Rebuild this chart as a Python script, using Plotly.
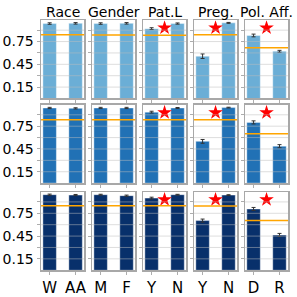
import plotly.graph_objects as go
from plotly.subplots import make_subplots

groups = ["Race", "Gender", "Pat.L", "Preg.", "Pol. Aff."]
categories = [["W", "AA"], ["M", "F"], ["Y", "N"], ["Y", "N"], ["D", "R"]]

# values per row (3 models), per group, per category
row1_vals = [[0.987, 0.99], [0.987, 0.99], [0.92, 0.987], [0.557, 0.996], [0.83, 0.622]]
row2_vals = [[0.99, 0.985], [0.99, 0.99], [0.935, 0.99], [0.55, 0.995], [0.80, 0.487]]
row3_vals = [[0.995, 0.99], [0.995, 0.982], [0.95, 0.995], [0.654, 0.99], [0.807, 0.465]]

row1_err = [[0.01, 0.01], [0.01, 0.01], [0.012, 0.008], [0.03, 0.006], [0.018, 0.012]]
row2_err = [[0.008, 0.008], [0.008, 0.008], [0.012, 0.006], [0.025, 0.005], [0.02, 0.02]]
row3_err = [[0.008, 0.008], [0.006, 0.008], [0.012, 0.005], [0.02, 0.005], [0.02, 0.02]]

row1_ref = [0.84, 0.835, 0.833, 0.838, 0.667]
row2_ref = [0.835, 0.835, 0.835, 0.835, 0.65]
row3_ref = [0.85, 0.85, 0.85, 0.845, 0.654]

significant = [False, False, True, True, True]
star_level = 0.93

ytick_vals = [0.15, 0.30, 0.45, 0.60, 0.75, 0.90]
ytick_text = ["0.15", "", "0.45", "", "0.75", ""]

row_colors = ["#6baed6", "#2171b5", "#08306b"]
all_vals = [row1_vals, row2_vals, row3_vals]
all_err = [row1_err, row2_err, row3_err]
all_ref = [row1_ref, row2_ref, row3_ref]

W = H = 297
col_left = [41.5, 93, 144.5, 196, 247.5]
col_w = 43.5
row_top = [20.5, 106, 194]
row_h = 79

fig = make_subplots(rows=3, cols=5)

for r in range(3):
    for c in range(5):
        fig.add_trace(go.Bar(
            x=[0, 1], y=all_vals[r][c], width=0.52,
            marker=dict(color=row_colors[r], line=dict(color="rgba(255,255,255,0.5)", width=0.8)),
            error_y=dict(type="data", array=all_err[r][c], color="#333333", thickness=1, width=2),
            showlegend=False, hoverinfo="skip"), row=r + 1, col=c + 1)
        if significant[c]:
            fig.add_trace(go.Scatter(
                x=[0.5], y=[star_level], mode="markers",
                marker=dict(symbol="star", size=11, color="#ff0000", line=dict(width=0)),
                showlegend=False, hoverinfo="skip"), row=r + 1, col=c + 1)
        idx = r * 5 + c + 1
        xa = "xaxis" if idx == 1 else f"xaxis{idx}"
        ya = "yaxis" if idx == 1 else f"yaxis{idx}"
        xref = "x" if idx == 1 else f"x{idx}"
        yref = "y" if idx == 1 else f"y{idx}"
        x0 = col_left[c] / W
        x1 = (col_left[c] + col_w) / W
        y1 = 1 - row_top[r] / H
        y0 = 1 - (row_top[r] + row_h) / H
        fig.layout[xa].update(
            domain=[x0, x1], range=[-0.33, 1.33],
            tickvals=[0, 1], ticktext=categories[c] if r == 2 else ["", ""],
            ticks="outside", ticklen=3, tickcolor="#999999", tickwidth=0.8,
            showgrid=False, zeroline=False,
            showline=True, linecolor="#a8a8a8", linewidth=1.5, mirror=True,
            tickfont=dict(family="DejaVu Sans", size=15, color="black"),
            fixedrange=True)
        fig.layout[ya].update(
            domain=[y0, y1], range=[0, 1.03],
            tickvals=ytick_vals, ticktext=ytick_text if c == 0 else [""] * len(ytick_vals),
            ticks="outside", ticklen=3, tickcolor="#999999", tickwidth=0.8,
            showgrid=False, zeroline=False,
            showline=True, linecolor="#a8a8a8", linewidth=1.5, mirror=True,
            tickfont=dict(family="DejaVu Sans", size=14, color="black"),
            fixedrange=True)
        # grid lines drawn above bars
        for tv in ytick_vals:
            fig.add_shape(type="line", xref=f"{xref} domain", yref=yref,
                          x0=0, x1=1, y0=tv, y1=tv, layer="above",
                          line=dict(color="rgba(190,190,190,0.5)", width=1))
        # reference line
        fig.add_shape(type="line", xref=f"{xref} domain", yref=yref,
                      x0=0, x1=1, y0=all_ref[r][c], y1=all_ref[r][c], layer="above",
                      line=dict(color="#ffa500", width=1.5))

for c in range(5):
    fig.add_annotation(text=groups[c], xref="paper", yref="paper",
                       x=(col_left[c] + col_w / 2) / W, y=1 - 12.5 / H,
                       xanchor="center", yanchor="middle", showarrow=False,
                       font=dict(family="DejaVu Sans", size=14, color="black"))

fig.update_layout(width=W, height=H, margin=dict(l=0, r=0, t=0, b=0),
                  paper_bgcolor="white", plot_bgcolor="white", bargap=0)

fig.write_html("out.html", config={"displayModeBar": False, "staticPlot": True})

# remove default page margin so the figure sits at the window origin
with open("out.html", "r", encoding="utf-8") as f:
    html = f.read()
html = html.replace("<head>", "<head><style>html,body{margin:0;padding:0;overflow:hidden;}</style>", 1)
with open("out.html", "w", encoding="utf-8") as f:
    f.write(html)
